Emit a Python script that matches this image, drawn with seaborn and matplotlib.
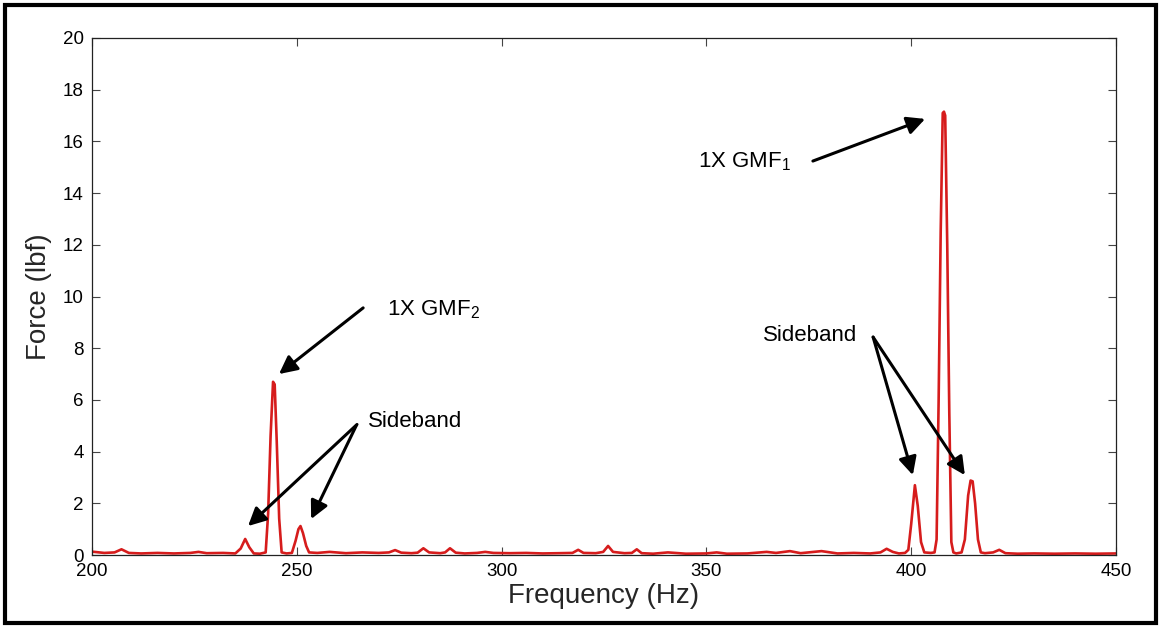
import matplotlib
matplotlib.use("Agg")
import matplotlib.pyplot as plt
from matplotlib.patches import Rectangle
import seaborn as sns
import pandas as pd

# Spectrum vertices (frequency in Hz, force in lbf)
freq_hz = [
    200, 203, 205.5, 207.2, 209, 212, 216, 220, 224, 226, 228, 232, 235,
    236.3, 237.4, 238.4, 239.5, 241, 242.4, 243.0, 243.6, 244.2, 244.6,
    245.1, 245.7, 246.3, 247.5, 248.8, 249.7, 250.4, 250.9, 251.5, 252.3,
    253.0, 255, 258, 262, 266, 270, 272.5, 274.0, 275.5, 278, 279.5, 280.9,
    282.3, 285, 286.2, 287.4, 288.8, 291, 294, 296, 298, 302, 306, 310, 314,
    317.3, 318.7, 320, 323, 324.8, 326.0, 327.2, 330, 331.8, 333, 334.2, 337,
    340.6, 345, 350, 352.5, 355, 360, 364.7, 367, 370.4, 373, 378.1, 382,
    386, 390, 392.5, 394, 395.5, 397, 398.5, 399.3, 400.0, 400.9, 401.6,
    402.4, 403.2, 404.8, 405.7, 406.2, 406.7, 407.2, 407.7, 408.0, 408.3,
    408.8, 409.3, 409.8, 410.3, 411.0, 412.3, 413.1, 413.9, 414.5, 415.0,
    415.6, 416.3, 417.0, 418, 420, 421.5, 423, 426, 430, 435, 440, 445, 450,
]
force_lbf = [
    0.13, 0.08, 0.10, 0.22, 0.08, 0.06, 0.08, 0.06, 0.08, 0.12, 0.07, 0.08, 0.06,
    0.25, 0.62, 0.30, 0.06, 0.05, 0.10, 1.6, 4.6, 6.7, 6.6,
    4.4, 1.4, 0.10, 0.06, 0.08, 0.55, 1.0, 1.12, 0.85, 0.35,
    0.10, 0.08, 0.12, 0.07, 0.10, 0.08, 0.10, 0.19, 0.09, 0.07, 0.09, 0.26,
    0.10, 0.07, 0.10, 0.26, 0.09, 0.06, 0.08, 0.12, 0.08, 0.07, 0.08, 0.06, 0.07,
    0.08, 0.20, 0.08, 0.07, 0.12, 0.35, 0.12, 0.07, 0.08, 0.22, 0.07, 0.05,
    0.10, 0.05, 0.06, 0.10, 0.05, 0.06, 0.12, 0.08, 0.15, 0.07, 0.15, 0.06,
    0.08, 0.06, 0.10, 0.24, 0.12, 0.06, 0.08, 0.20, 1.2, 2.7, 1.9,
    0.5, 0.10, 0.08, 0.10, 0.6, 6.0, 12.5, 17.1, 17.15, 17.0,
    12.0, 5.5, 0.5, 0.10, 0.06, 0.10, 0.6, 2.3, 2.88, 2.85,
    2.0, 0.6, 0.10, 0.07, 0.10, 0.20, 0.07, 0.05, 0.06, 0.05, 0.06, 0.05, 0.06,
]

x_ticks = [200, 250, 300, 350, 400, 450]
y_ticks = [0, 2, 4, 6, 8, 10, 12, 14, 16, 18, 20]

sns.set_style("ticks")
plt.rcParams["font.family"] = ["Liberation Sans", "DejaVu Sans"]
plt.rcParams["mathtext.fontset"] = "custom"
plt.rcParams["mathtext.rm"] = "Liberation Sans"

df = pd.DataFrame({"Frequency (Hz)": freq_hz, "Force (lbf)": force_lbf})

fig = plt.figure(figsize=(11.6, 6.28), dpi=100)
ax = fig.add_axes([92 / 1160, 1 - 555 / 628, (1116 - 92) / 1160, (555 - 38) / 628])

sns.lineplot(data=df, x="Frequency (Hz)", y="Force (lbf)", ax=ax,
             color="#d61c1c", linewidth=1.9, sort=False, estimator=None)

ax.set_xlim(200, 450)
ax.set_ylim(0, 20)
ax.set_xticks(x_ticks)
ax.set_yticks(y_ticks)
ax.tick_params(direction="in", length=6, width=0.8, color="#444444",
               labelsize=13.5, labelcolor="black", top=True, right=True, pad=6)
for s in ax.spines.values():
    s.set_visible(True)
    s.set_linewidth(0.9)
    s.set_color("#222222")

ax.set_xlabel("Frequency (Hz)", fontsize=20, labelpad=2)
ax.set_ylabel("Force (lbf)", fontsize=20, labelpad=8)

arrow = dict(arrowstyle="-|>", color="black", lw=2.2, mutation_scale=27,
             shrinkA=0, shrinkB=0)
txt = dict(fontsize=16, va="center", ha="left", color="black")

# Gear-mesh frequency 2 with its sidebands
ax.text(272.0, 9.48, r"1X GMF$_\mathregular{2}$", **txt)
ax.annotate("", xy=(245.65, 7.0), xytext=(266.2, 9.56), arrowprops=arrow)
ax.text(267.3, 5.18, "Sideband", **txt)
ax.annotate("", xy=(238.1, 1.12), xytext=(264.7, 5.05), arrowprops=arrow)
ax.annotate("", xy=(253.5, 1.39), xytext=(264.5, 5.0), arrowprops=arrow)

# Gear-mesh frequency 1 with its sidebands
ax.text(348.0, 15.2, r"1X GMF$_\mathregular{1}$", **txt)
ax.annotate("", xy=(403.4, 16.87), xytext=(376.0, 15.24), arrowprops=arrow)
ax.text(363.8, 8.51, "Sideband", **txt)
ax.annotate("", xy=(400.4, 3.09), xytext=(390.7, 8.43), arrowprops=arrow)
ax.annotate("", xy=(413.1, 3.09), xytext=(390.7, 8.43), arrowprops=arrow)

# Outer frame around the whole figure
fig.patches.append(Rectangle((5 / 1160, 5 / 628), 1151 / 1160, 618 / 628,
                             transform=fig.transFigure, fill=False,
                             linewidth=3, edgecolor="black"))

fig.savefig("out.png", dpi=100)
